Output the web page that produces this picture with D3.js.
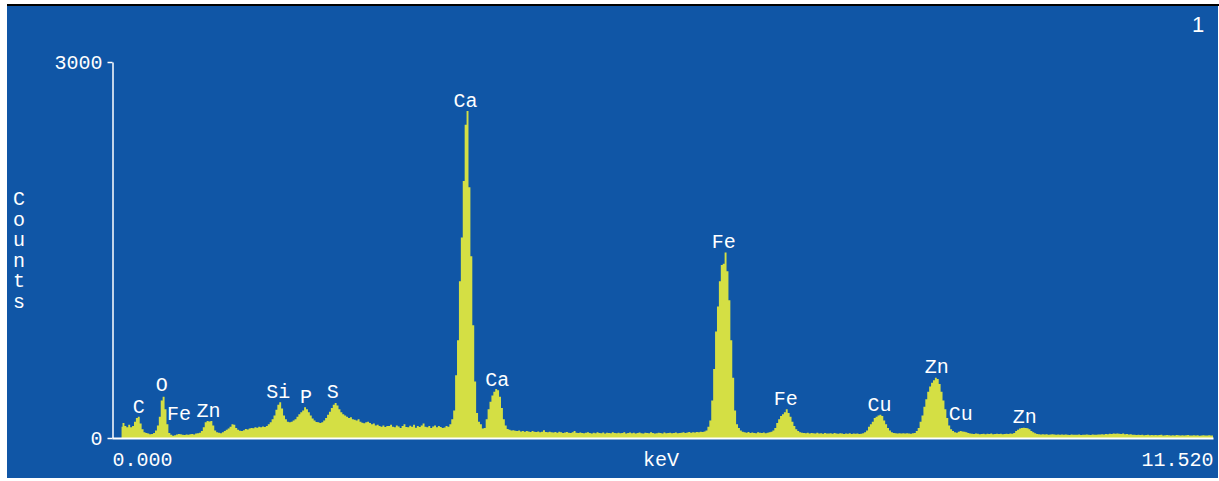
<!DOCTYPE html>
<html>
<head>
<meta charset="utf-8">
<script src="https://cdn.jsdelivr.net/npm/d3@7"></script>
<style>
  html, body { margin: 0; padding: 0; background: #fff; }
  svg { display: block; }
</style>
</head>
<body>
<div id="chartContainer"></div>
<script>
// Spectrum channels: counts every 0.02 keV, starting at 0.10 keV
const startKeV = 0.10;
const stepKeV = 0.02;
const counts = [
  90, 120, 95, 85, 105, 85, 95, 130, 160, 170,
  115, 70, 45, 40, 35, 30, 32, 40, 60, 100,
  170, 300, 330, 230, 110, 40, 25, 18, 22, 28,
  32, 30, 26, 24, 28, 25, 30, 32, 28, 35,
  38, 42, 55, 85, 125, 135, 132, 136, 100, 60,
  45, 42, 38, 45, 55, 65, 75, 90, 110, 105,
  80, 65, 58, 55, 62, 72, 68, 75, 80, 78,
  85, 82, 90, 86, 92, 88, 95, 110, 125, 150,
  180, 225, 265, 285, 235, 180, 150, 130, 125, 130,
  140, 150, 170, 190, 205, 220, 245, 230, 205, 180,
  155, 140, 128, 125, 120, 125, 140, 160, 185, 210,
  240, 265, 280, 260, 230, 205, 190, 180, 170, 160,
  165, 150, 145, 140, 150, 130, 122, 118, 125, 130,
  120, 110, 115, 100, 105, 95, 90, 100, 88, 95,
  96, 105, 90, 85, 100, 92, 80, 95, 110, 88,
  85, 98, 90, 105, 82, 95, 88, 100, 115, 90,
  85, 95, 80, 92, 100, 85, 95, 88, 80, 84,
  95, 90, 110, 150, 220, 500, 780, 1250, 1600, 2050,
  2500, 2610, 2000, 1450, 900, 450, 200, 130, 110, 75,
  80, 150, 230, 290, 340, 370, 390, 380, 330, 240,
  150, 100, 72, 65, 60, 62, 58, 55, 60, 52,
  55, 50, 56, 52, 48, 55, 50, 47, 52, 45,
  50, 62, 48, 45, 50, 46, 44, 48, 42, 50,
  45, 40, 44, 48, 42, 40, 45, 55, 42, 40,
  44, 40, 38, 42, 46, 40, 36, 42, 38, 45,
  40, 38, 44, 36, 42, 40, 38, 46, 40, 37,
  42, 38, 40, 45, 36, 40, 43, 38, 41, 36,
  40, 44, 38, 36, 42, 40, 38, 45, 40, 36,
  38, 42, 40, 36, 44, 38, 40, 42, 37, 40,
  44, 38, 40, 42, 45, 40, 43, 48, 42, 46,
  44, 48, 45, 50, 48, 52, 60, 90, 140, 300,
  550, 850, 1050, 1250, 1380, 1390, 1480, 1330, 1100, 780,
  480, 220, 110, 80, 60, 50, 45, 42, 48, 40,
  44, 40, 38, 45, 42, 40, 44, 38, 42, 46,
  50, 60, 80, 120, 150, 175, 190, 205, 230, 200,
  170, 130, 95, 70, 55, 45, 42, 40, 38, 42,
  36, 40, 38, 35, 42, 36, 38, 34, 40, 36,
  35, 38, 34, 40, 36, 33, 38, 35, 32, 36,
  34, 38, 32, 35, 33, 36, 32, 34, 38, 45,
  60, 90, 110, 130, 160, 170, 180, 185, 175, 140,
  110, 80, 60, 45, 40, 38, 36, 38, 35, 37,
  35, 38, 36, 34, 38, 40, 55, 80, 130, 180,
  250, 310, 370, 410, 440, 460, 480, 470, 430, 370,
  300, 230, 160, 100, 70, 55, 45, 42, 50, 55,
  52, 50, 45, 40, 36, 34, 32, 35, 33, 30,
  32, 34, 30, 33, 31, 35, 30, 32, 34, 31,
  33, 30, 32, 34, 31, 35, 33, 40, 55, 65,
  75, 80, 82, 80, 78, 70, 55, 45, 38, 32,
  30, 28, 30, 27, 29, 26, 28, 30, 27, 26,
  28, 26, 27, 25, 28, 26, 24, 27, 25, 26,
  25, 27, 24, 26, 25, 28, 26, 24, 27, 25,
  26, 28, 27, 30, 28, 32, 30, 34, 32, 35,
  33, 36, 34, 32, 35, 30, 31, 28, 29, 26,
  25, 24, 26, 23, 25, 22, 24, 26, 22, 23,
  22, 24, 21, 23, 25, 20, 22, 24, 21, 20,
  22, 20, 23, 21, 19, 22, 20, 21, 23, 20,
  19, 21, 20, 22, 18, 20, 21, 19, 20, 22,
  20, 19
];

// Peak labels: element, energy (keV), level of the label baseline (counts)
const peakNames = ["C", "O", "Fe", "Zn", "Si", "P", "S", "Ca", "Ca", "Fe", "Fe", "Cu", "Zn", "Cu", "Zn"];
const peakKeV = [0.28, 0.52, 0.70, 1.01, 1.74, 2.03, 2.31, 3.70, 4.03, 6.40, 7.05, 8.03, 8.63, 8.88, 9.55];
const peakLabelCounts = [200, 375, 144, 168, 319, 279, 319, 2641, 415, 1516, 263, 215, 519, 144, 120];

// Axis ticks
const yTicks = [0, 3000];
const xTicks = [0, 11.52];
const yLabelLetters = ["C", "o", "u", "n", "t", "s"];

function createChart() {
    const width = 1219;
    const height = 481;
    const blue = "#1056a6";
    const yellow = "#d4df44";
    const mono = "'Liberation Mono', 'DejaVu Sans Mono', monospace";

    const svg = d3.create("svg")
        .attr("width", width)
        .attr("height", height);

    // Frame: white page, blue panel, thin black top edge
    svg.append("rect").attr("width", width).attr("height", height).attr("fill", "#fff");
    svg.append("rect").attr("x", 7).attr("y", 6).attr("width", 1211).attr("height", 472).attr("fill", blue);
    svg.append("rect").attr("x", 7).attr("y", 4).attr("width", 1212).attr("height", 2).attr("fill", "#000");

    const x = d3.scaleLinear().domain([0, 11.52]).range([112, 1213]);
    const y = d3.scaleLinear().domain([0, 3000]).range([438, 62]);

    // Spectrum
    const area = d3.area()
        .curve(d3.curveStep)
        .x((d, i) => x(startKeV + i * stepKeV))
        .y0(y(0))
        .y1(d => y(d));

    svg.append("path")
        .datum(counts)
        .attr("fill", yellow)
        .attr("d", area);

    // Y axis
    const yAxis = svg.append("g")
        .attr("transform", "translate(112.5,0)")
        .call(d3.axisLeft(y).tickValues(yTicks).tickSize(5).tickSizeOuter(0).tickPadding(5).tickFormat(d3.format("d")));

    // X axis (baseline)
    const xAxis = svg.append("g")
        .attr("transform", `translate(0,${y(0)})`)
        .call(d3.axisBottom(x).tickValues(xTicks).tickSize(0).tickSizeOuter(0).tickFormat(d3.format(".3f")));

    [yAxis, xAxis].forEach(g => {
        g.selectAll("path, line").attr("stroke", "#fff");
        g.selectAll("text").attr("fill", "#fff").style("font", `20px ${mono}`);
    });
    yAxis.select(".domain").attr("stroke-width", 1.5);
    yAxis.selectAll(".tick line").attr("stroke-width", 1.5);
    xAxis.select(".domain").attr("stroke-width", 2);
    xAxis.selectAll("text")
        .attr("y", 28)
        .attr("dy", null)
        .attr("text-anchor", (d, i) => i === 0 ? "start" : "end");

    // Axis titles
    svg.append("text")
        .attr("x", 661)
        .attr("y", 466)
        .attr("text-anchor", "middle")
        .attr("fill", "#fff")
        .style("font", `20px ${mono}`)
        .text("keV");

    svg.append("text")
        .attr("fill", "#fff")
        .attr("text-anchor", "middle")
        .style("font", `20px ${mono}`)
        .selectAll("tspan")
        .data(yLabelLetters)
        .join("tspan")
        .attr("x", 19)
        .attr("y", (d, i) => 205 + i * 20.6)
        .text(d => d);

    // Peak labels
    svg.append("g")
        .attr("fill", "#fff")
        .attr("text-anchor", "middle")
        .style("font", `20px ${mono}`)
        .selectAll("text")
        .data(peakNames)
        .join("text")
        .attr("x", (d, i) => x(peakKeV[i]))
        .attr("y", (d, i) => y(peakLabelCounts[i]))
        .text(d => d);

    // Frame number
    svg.append("text")
        .attr("x", 1198)
        .attr("y", 32)
        .attr("text-anchor", "middle")
        .attr("fill", "#fff")
        .style("font", "22px 'Liberation Sans', Arial, sans-serif")
        .text("1");

    return svg.node();
}

document.getElementById("chartContainer").appendChild(createChart());
</script>
</body>
</html>
